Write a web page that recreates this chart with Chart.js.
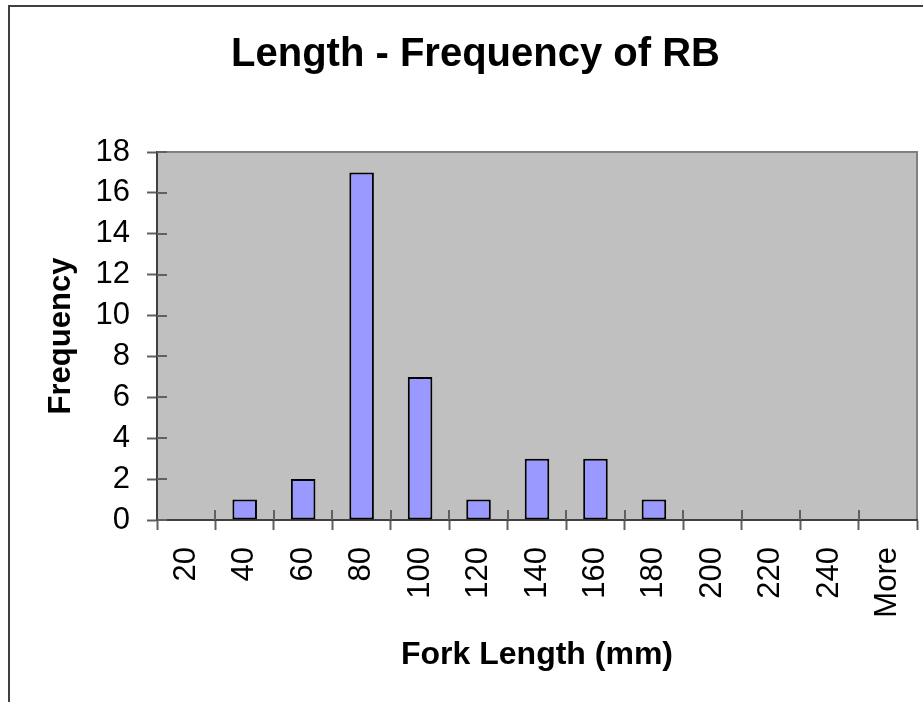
<!DOCTYPE html>
<html>
<head>
<meta charset="utf-8">
<script src="https://cdn.jsdelivr.net/npm/chart.js@4.4.1/dist/chart.umd.min.js"></script>
<style>
  html, body { margin: 0; padding: 0; background: #fff; }
  #wrap { width: 923px; height: 702px; position: relative; }
</style>
</head>
<body>
<div id="wrap"><canvas id="histChart"></canvas></div>
<script>
// bins of fork length (mm) and counts
const categories = ['20', '40', '60', '80', '100', '120', '140', '160', '180', '200', '220', '240', 'More'];
const frequency = [0, 1, 2, 17, 7, 1, 3, 3, 1, 0, 0, 0, 0];
const yMin = 0;
const yMax = 18;
const yStep = 2;

const fontFamily = '"Liberation Sans", Arial, Helvetica, sans-serif';

// grey plot area, outer frame, and the inner half of the tick marks
const excelLook = {
    id: 'excelLook',
    beforeDraw(chart) {
        const c = chart.ctx;
        const a = chart.chartArea;
        c.save();
        c.fillStyle = '#C0C0C0';
        c.fillRect(a.left, a.top, a.right - a.left, a.bottom - a.top);
        c.strokeStyle = '#808080';
        c.lineWidth = 2;
        c.beginPath();
        c.moveTo(a.left, a.top);
        c.lineTo(a.right, a.top);
        c.lineTo(a.right, a.bottom);
        c.stroke();
        // outer chart frame (only top and left are inside the picture)
        c.strokeStyle = '#404040';
        c.lineWidth = 2;
        c.beginPath();
        c.moveTo(9, chart.height);
        c.lineTo(9, 6);
        c.lineTo(chart.width, 6);
        c.stroke();
        c.restore();
    },
    afterDraw(chart) {
        const c = chart.ctx;
        const a = chart.chartArea;
        const x = chart.scales.x;
        const y = chart.scales.y;
        c.save();
        c.strokeStyle = '#606060';
        c.lineWidth = 2;
        c.beginPath();
        y.ticks.forEach(t => {
            const py = Math.round(y.getPixelForValue(t.value));
            c.moveTo(a.left, py);
            c.lineTo(a.left + 10, py);
        });
        const n = categories.length;
        for (let i = 1; i < n; i++) {
            const px = Math.round(x.left + i * (x.width / n));
            c.moveTo(px, a.bottom);
            c.lineTo(px, a.bottom - 10);
        }
        c.stroke();
        c.restore();
    }
};

const ctx = document.getElementById('histChart').getContext('2d');

const chart = new Chart(ctx, {
    type: 'bar',
    data: {
        labels: categories,
        datasets: [
            {
                label: 'Frequency',
                data: frequency,
                backgroundColor: '#9999FF',
                borderColor: '#000000',
                borderWidth: 2,
                borderSkipped: false,
                categoryPercentage: 1.0,
                barPercentage: 0.42
            }
        ]
    },
    options: {
        responsive: true,
        maintainAspectRatio: false,
        animation: false,
        layout: {padding: {left: 34, right: 6, top: 0, bottom: 0}},
        plugins: {
            legend: {display: false},
            tooltip: {enabled: false},
            title: {
                display: true,
                text: 'Length - Frequency of RB',
                color: '#000',
                font: {family: fontFamily, size: 40, weight: 'bold', lineHeight: 1.2},
                padding: {top: 31, bottom: 73}
            }
        },
        scales: {
            x: {
                grid: {
                    display: true,
                    drawOnChartArea: false,
                    drawTicks: true,
                    tickLength: 10,
                    tickWidth: 2,
                    color: '#606060',
                    offset: true
                },
                border: {display: true, color: '#404040', width: 2},
                ticks: {
                    color: '#000',
                    font: {family: fontFamily, size: 31},
                    minRotation: 90,
                    maxRotation: 90,
                    autoSkip: false,
                    padding: 17
                },
                title: {
                    display: true,
                    text: 'Fork Length (mm)',
                    color: '#000',
                    font: {family: fontFamily, size: 32, weight: 'bold', lineHeight: 1.2},
                    padding: {top: 0, bottom: 28}
                },
                afterFit: s => {
                    s.height = 182;
                    s.paddingLeft = 0;
                    s.paddingRight = 0;
                }
            },
            y: {
                min: yMin,
                max: yMax,
                grid: {
                    display: true,
                    drawOnChartArea: false,
                    drawTicks: true,
                    tickLength: 10,
                    tickWidth: 2,
                    color: '#606060'
                },
                border: {display: true, color: '#404040', width: 2},
                ticks: {
                    stepSize: yStep,
                    color: '#000',
                    font: {family: fontFamily, size: 31},
                    padding: 17
                },
                title: {
                    display: true,
                    text: 'Frequency',
                    color: '#000',
                    font: {family: fontFamily, size: 31, weight: 'bold', lineHeight: 1.2},
                    padding: {top: 9, bottom: 0}
                },
                afterFit: s => { s.width = 123; }
            }
        }
    },
    plugins: [excelLook]
});
</script>
</body>
</html>
